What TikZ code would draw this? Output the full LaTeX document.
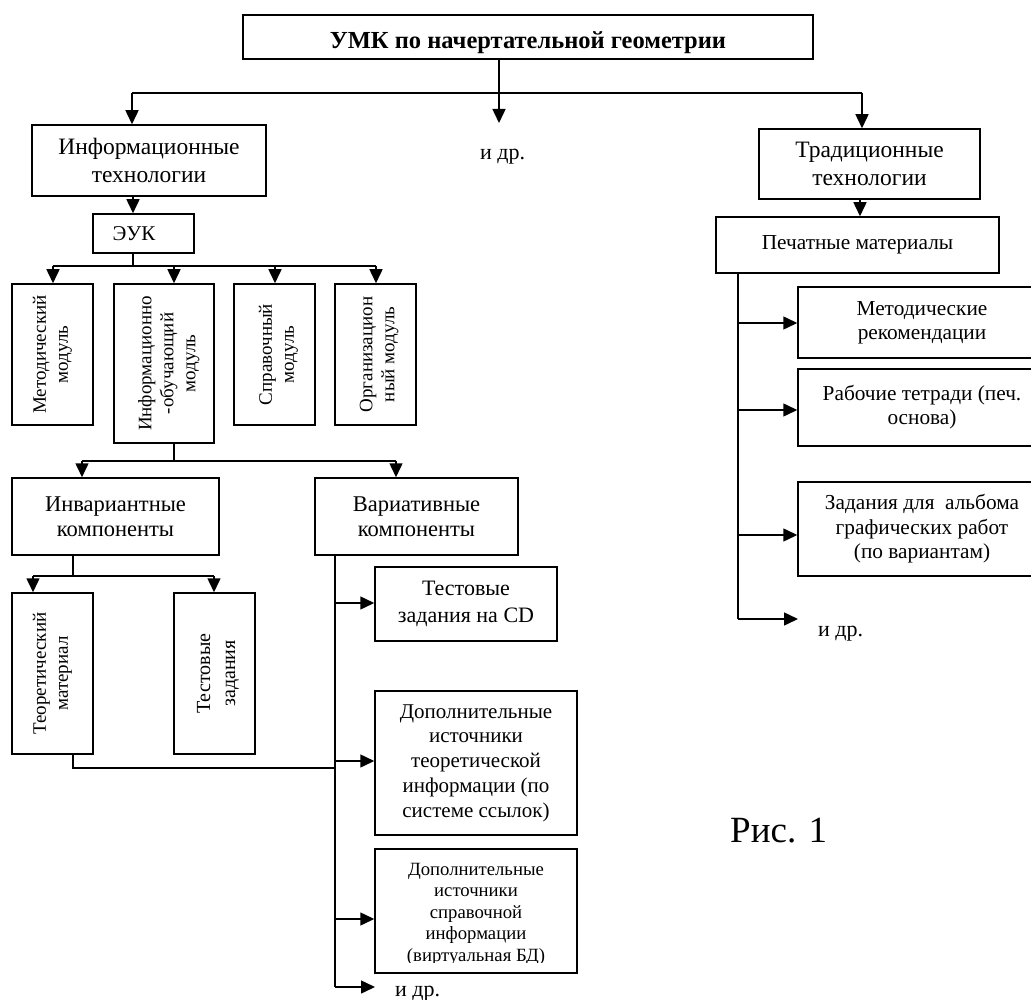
\documentclass[tikz,border=0pt]{standalone}
\usepackage{fontspec}
\usepackage{graphicx}
\setmainfont{Liberation Serif}
\usetikzlibrary{arrows.meta,calc}
\newcommand\fsz[2]{\fontsize{#1}{#2}\selectfont}
\newcommand\vtext[1]{\rotatebox{90}{\begin{tabular}{@{}c@{}}#1\end{tabular}}}
\begin{document}
\begin{tikzpicture}[x=1pt,y=-1pt,
  box/.style={draw,line width=1.5pt,inner sep=1pt,align=center,font=\fsz{21}{26}},
  sbox/.style={box,font=\fsz{21.3}{24}},
  vbox/.style={box,font=\fsz{19}{22}},
  plain/.style={inner sep=0pt,font=\fsz{22}{26}},
  ln/.style={line width=1.5pt},
  arr/.style={line width=1.5pt,-{Triangle[length=14pt,width=13pt]}}
]
\useasboundingbox (0,0) rectangle (1031,1000);

% ---------- top ----------
\node[box,line width=2pt,minimum width=570,minimum height=44,font=\bfseries\fsz{24.5}{28}] (title) at (528,37) {\raisebox{-6pt}[\height][\depth]{УМК по начертательной геометрии}};
\fill[white] ([xshift=2pt,yshift=2pt]title.south west) rectangle ([xshift=-2pt,yshift=4.5pt]title.south east);

\coordinate (x499) at (499,0);
\coordinate (j0) at (499,93);
\coordinate (j0L) at (132,93);
\coordinate (j0R) at (862,93);
\coordinate (etcTip) at (499,123);
\draw[ln] (x499 |- title.south) -- (j0);
\draw[ln] (j0L) -- (j0R);

\node[box,minimum width=234,minimum height=71,font=\fsz{23.5}{28}] (info) at (149,160.5) {Информационные\\технологии};
\node[box,minimum width=221,minimum height=70,font=\fsz{23.5}{28}] (trad) at (869.5,164) {Традиционные\\технологии};
\node[plain,anchor=base west] (etc1) at (480,160) {и др.};

\draw[arr] (j0L) -- (j0L |- info.north);
\draw[arr] (j0) -- (etcTip);
\draw[arr] (j0R) -- (j0R |- trad.north);

% ---------- ЭУК ----------
\node[box,minimum width=101,minimum height=39,font=\fsz{21}{24}] (euk) at (143.5,233.5) {\hspace*{-19pt}ЭУК};
\coordinate (x133) at (133,0);
\draw[arr] (x133 |- info.south) -- (x133 |- euk.north);

\coordinate (j1) at (133,266);
\coordinate (j1a) at (53,266);
\coordinate (j1b) at (174,266);
\coordinate (j1c) at (275,266);
\coordinate (j1d) at (376,266);
\draw[ln] (x133 |- euk.south) -- (j1);
\draw[ln] (j1a) -- (j1d);

\node[vbox,minimum width=81,minimum height=141] (m1) at (52.5,354.5) {\vtext{Методический\\модуль}};
\node[vbox,minimum width=100,minimum height=159] (m2) at (164,363.5) {\hspace*{10pt}\vtext{Информационно\\-обучающий\\модуль}};
\node[vbox,minimum width=81,minimum height=141] (m3) at (274.5,354.5) {\hspace*{8pt}\vtext{Справочный\\модуль}};
\node[vbox,minimum width=81,minimum height=141] (m4) at (375.5,354.5) {\hspace*{7pt}\vtext{Организацион\\ный модуль}};

\draw[arr] (j1a) -- (j1a |- m1.north);
\draw[arr] (j1b) -- (j1b |- m2.north);
\draw[arr] (j1c) -- (j1c |- m3.north);
\draw[arr] (j1d) -- (j1d |- m4.north);

% ---------- components ----------
\coordinate (x174) at (174,0);
\coordinate (j2) at (174,461);
\coordinate (j2a) at (82,461);
\coordinate (j2b) at (396,461);
\draw[ln] (x174 |- m2.south) -- (j2);
\draw[ln] (j2a) -- (j2b);

\node[box,minimum width=207,minimum height=77,font=\fsz{22.5}{25}] (inv) at (115.5,516.5) {Инвариантные\\компоненты};
\node[box,minimum width=203,minimum height=77,font=\fsz{22.5}{25}] (var) at (416.5,516.5) {Вариативные\\компоненты};
\draw[arr] (j2a) -- (j2a |- inv.north);
\draw[arr] (j2b) -- (j2b |- var.north);

\coordinate (x73) at (73,0);
\coordinate (j3) at (73,576);
\coordinate (j3a) at (33,576);
\coordinate (j3b) at (214,576);
\draw[ln] (x73 |- inv.south) -- (j3);
\draw[ln] (j3a) -- (j3b);

\node[vbox,minimum width=81,minimum height=161] (theo) at (52.5,673.5) {\vtext{Теоретический\\материал}};
\node[vbox,minimum width=81,minimum height=161,font=\fsz{20}{25}] (tst) at (214.5,673.5) {\hspace*{6pt}\vtext{Тестовые\\задания}};
\draw[arr] (j3a) -- (j3a |- theo.north);
\draw[arr] (j3b) -- (j3b |- tst.north);

\coordinate (j4) at (73,768);
\coordinate (j5) at (335,768);
\draw[ln] (x73 |- theo.south) -- (j4) -- (j5);

% ---------- variative branch ----------
\coordinate (x335) at (335,0);
\coordinate (jv1) at (335,603);
\coordinate (jv2) at (335,761);
\coordinate (jv3) at (335,919);
\coordinate (jv4) at (335,987);
\coordinate (etc2tip) at (375,987);
\draw[ln] (x335 |- var.south) -- (jv4);

\node[box,minimum width=182,minimum height=74,font=\fsz{22}{27}] (cd) at (466,604) {Тестовые\\задания на CD};
\node[box,minimum width=202,minimum height=144,font=\fsz{21}{24.7}] (dt) at (476,763) {Дополнительные\\источники\\теоретической\\информации (по\\системе ссылок)};
\node[box,minimum width=202,minimum height=124,font=\fsz{18.7}{21.5}] (ds) at (476,911) {\raisebox{-3pt}[\height][\depth]{\begin{tabular}{@{}c@{}}Дополнительные\\источники\\справочной\\информации\\(виртуальная БД)\end{tabular}}};
\fill[white] ([xshift=2pt,yshift=2pt]ds.south west) rectangle ([xshift=-2pt,yshift=10.5pt]ds.south east);
\node[plain,anchor=base west] (etc2) at (395,996) {и др.};

\draw[arr] (jv1) -- (jv1 -| cd.west);
\draw[arr] (jv2) -- (jv2 -| dt.west);
\draw[arr] (jv3) -- (jv3 -| ds.west);
\draw[arr] (jv4) -- (etc2tip);

% ---------- right column ----------
\node[sbox,minimum width=283,minimum height=56] (pm) at (857.5,245) {Печатные материалы};
\coordinate (x860) at (860,0);
\draw[arr] (x860 |- trad.south) -- (x860 |- pm.north);

\coordinate (x738) at (738,0);
\coordinate (jr1) at (738,323);
\coordinate (jr2) at (738,410);
\coordinate (jr3) at (738,535);
\coordinate (jr4) at (738,619);
\coordinate (etc3tip) at (798,619);
\draw[ln] (x738 |- pm.south) -- (jr4);

\node[sbox,minimum width=248,minimum height=71] (mr) at (922,322.5) {Методические\\рекомендации};
\node[sbox,minimum width=248,minimum height=77] (rt) at (922,407.5) {Рабочие тетради (печ.\\основа)};
\node[sbox,minimum width=248,minimum height=94,font=\fsz{21.3}{24.5}] (zad) at (922,529) {Задания для\ \ альбома\\графических работ\\(по вариантам)};
\node[plain,anchor=base west] (etc3) at (818,636) {и др.};

\draw[arr] (jr1) -- (jr1 -| mr.west);
\draw[arr] (jr2) -- (jr2 -| rt.west);
\draw[arr] (jr3) -- (jr3 -| zad.west);
\draw[arr] (jr4) -- (etc3tip);

\node[plain,anchor=base west,font=\fsz{37}{42}] (fig) at (730,842) {Рис. 1};
\end{tikzpicture}
\end{document}
